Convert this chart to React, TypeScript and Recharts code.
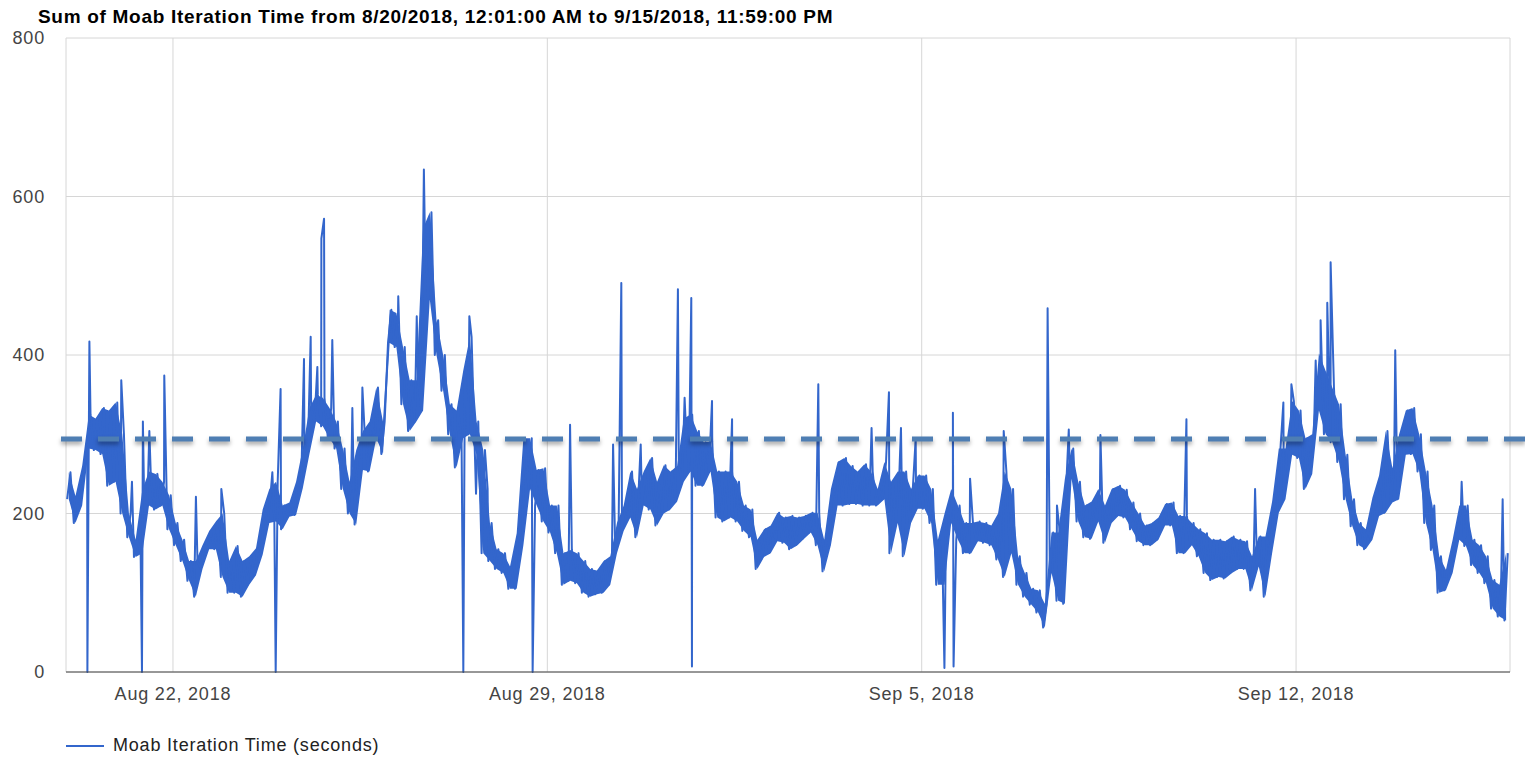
import { ComposedChart, Line, Area, XAxis, YAxis, CartesianGrid, ReferenceLine, Legend } from 'recharts';

// Noise band of the trace: low and high per 3-hour slot from 8/20/2018 00:00 (seconds)
const bandLow = [
  218, 188, 210, 282, 280, 275, 235, 240, 200, 170, 145, 150, 210, 205, 210, 180, 160, 140, 115, 95, 130, 155, 155, 120, 100, 100, 95,
  110, 122, 148, 188, 190, 180, 196, 198, 232, 275, 316, 310, 295, 282, 231, 200, 186, 255, 253, 295, 275, 415, 410, 338, 304, 316, 330,
  470, 400, 355, 300, 258, 295, 300, 274, 150, 140, 130, 125, 105, 105, 160, 231, 210, 190, 176, 150, 110, 115, 112, 100, 95, 98, 100,
  110, 150, 178, 195, 170, 210, 205, 185, 200, 205, 215, 240, 253, 235, 235, 253, 195, 190, 195, 190, 178, 170, 130, 145, 150, 165, 163,
  155, 160, 168, 176, 160, 127, 160, 210, 210, 212, 212, 210, 210, 210, 218, 150, 188, 146, 188, 206, 206, 188, 110, 110, 188, 167, 150, 150,
  165, 163, 160, 142, 120, 150, 110, 95, 85, 75, 56, 125, 90, 86, 244, 190, 170, 168, 190, 163, 188, 197, 195, 180, 165, 160, 160,
  167, 185, 185, 150, 150, 160, 146, 125, 116, 120, 118, 125, 130, 130, 103, 133, 95, 150, 201, 218, 274, 270, 231, 250, 330, 300, 290,
  265, 218, 184, 160, 155, 167, 197, 201, 214, 218, 274, 275, 253, 188, 154, 100, 103, 125, 167, 159, 135, 125, 112, 80, 70, 65,
];

const bandHigh = [
  252, 222, 260, 325, 320, 333, 330, 340, 300, 200, 167, 230, 253, 250, 240, 223, 188, 167, 140, 140, 160, 178, 190, 200, 140, 159, 140,
  146, 156, 205, 231, 240, 210, 214, 240, 282, 333, 350, 346, 333, 316, 282, 240, 280, 304, 316, 359, 316, 457, 453, 410, 368, 368, 560,
  580, 444, 400, 338, 330, 380, 423, 316, 280, 188, 155, 150, 133, 175, 295, 295, 255, 257, 210, 210, 150, 154, 150, 140, 130, 128, 140,
  146, 188, 210, 253, 231, 253, 270, 240, 261, 253, 260, 320, 325, 304, 290, 291, 253, 253, 253, 240, 210, 205, 167, 180, 185, 201, 195,
  197, 195, 197, 201, 201, 167, 231, 265, 270, 260, 253, 262, 253, 231, 265, 240, 253, 253, 231, 248, 248, 231, 167, 200, 231, 210, 188, 188,
  190, 188, 185, 200, 253, 231, 146, 125, 105, 103, 86, 176, 176, 244, 282, 240, 210, 215, 231, 210, 231, 235, 230, 214, 200, 185, 188,
  195, 212, 214, 197, 197, 188, 180, 175, 167, 167, 165, 171, 167, 165, 146, 171, 171, 215, 282, 282, 342, 330, 295, 300, 402, 380, 359,
  338, 274, 218, 188, 180, 220, 248, 304, 257, 300, 330, 333, 300, 253, 210, 146, 129, 167, 210, 210, 167, 160, 146, 116, 110, 150,
];

// Isolated spikes: hours since 8/20/2018 00:00 and their value (seconds)
const spikeHours = [
  9.6, 10.5, 24.8, 29.6, 34.1, 34.5, 37.4, 44.1, 58.3, 69.7,
  92.6, 94.1, 96.3, 106.8, 109.8, 112.8, 114.6, 115.8, 119.5, 128.5, 133.0, 149.1, 157.4, 160.6,
  178.3, 181.0, 184.0, 189.2, 209.4, 226.2,
  245.5, 249.2, 257.9, 274.6, 277.6, 280.6, 280.9, 289.9, 298.9,
  337.6, 361.5, 369.3, 374.7, 381.3, 394.2, 398.0, 398.3, 405.7,
  420.8, 440.5, 444.7, 450.0, 464.2,
  502.8, 533.6, 546.3, 549.9, 560.8, 563.0, 566.0, 567.5,
  596.5, 626.3, 644.7,
];
const spikeValues = [
  0, 417, 368, 240, 0, 316, 304, 374, 221, 231,
  252, 0, 357, 395, 423, 385, 547, 572, 419, 333, 359, 474, 449, 634,
  0, 449, 225, 231, 0, 312,
  287, 491, 287, 483, 346, 472, 7, 342, 319,
  363, 308, 353, 308, 295, 5, 327, 7, 244,
  304, 459, 210, 306, 299,
  319, 231, 340, 363, 393, 444, 466, 517,
  406, 240, 218,
];

const averageSeconds = 294;

const xTickHours = [48, 216, 384, 552];
const xTickLabels = ['Aug 22, 2018', 'Aug 29, 2018', 'Sep 5, 2018', 'Sep 12, 2018'];
const yTicks = [0, 200, 400, 600, 800];

const bandData = bandLow.map((lo, i) => ({ t: i * 3 + 1.25, band: [lo, bandHigh[i]] }));

const traceData: { t: number; v: number }[] = [];
bandLow.forEach((lo, i) => {
  traceData.push({ t: i * 3 + 0.5, v: lo });
  traceData.push({ t: i * 3 + 2, v: bandHigh[i] });
});
spikeHours.forEach((h, i) => traceData.push({ t: h, v: spikeValues[i] }));
traceData.sort((a, b) => a.t - b.t);

const FONT = '"Liberation Sans", Arial, sans-serif';
const tickStyle = { fill: '#444', fontSize: 18, fontFamily: FONT, letterSpacing: 0.8 };

const DashedAverage = (p: any) => (
  <line
    x1={p.x1 - 5}
    y1={p.y1}
    x2={p.x2 + 23}
    y2={p.y2}
    stroke="#4e7eb3"
    strokeWidth={5}
    strokeDasharray="21 16"
    style={{ filter: 'drop-shadow(0px 3px 2px rgba(0,0,0,0.35))' }}
  />
);

const LegendContent = () => (
  <div style={{ display: 'flex', alignItems: 'center', fontFamily: FONT, fontSize: 18, letterSpacing: 0.8, color: '#222' }}>
    <svg width={38} height={4} style={{ marginRight: 9 }}>
      <line x1={0} y1={2} x2={38} y2={2} stroke="#3366cc" strokeWidth={2} />
    </svg>
    <span>Moab Iteration Time (seconds)</span>
  </div>
);

export default function App() {
  return (
    <div style={{ position: 'relative', width: 1525, height: 749 }}>
      <div
        style={{
          position: 'absolute',
          left: 30,
          top: -2,
          fontFamily: FONT,
          fontWeight: 'bold',
          fontSize: 19,
          letterSpacing: 0.7,
          lineHeight: '22px',
          color: '#000',
          whiteSpace: 'nowrap',
        }}
      >
        Sum of Moab Iteration Time from 8/20/2018, 12:01:00 AM to 9/15/2018, 11:59:00 PM
      </div>
      <ComposedChart width={1525} height={749} margin={{ top: 30, right: 23, left: 0, bottom: 24 }}>
        <CartesianGrid stroke="#d6d6d6" />
        <XAxis
          type="number"
          dataKey="t"
          domain={[0, 648]}
          ticks={xTickHours}
          tickFormatter={(h: number) => xTickLabels[xTickHours.indexOf(h)]}
          height={40}
          tickSize={0}
          tickMargin={15}
          stroke="#444"
          tick={tickStyle}
        />
        <YAxis
          domain={[0, 800]}
          ticks={yTicks}
          width={58}
          axisLine={false}
          tickLine={false}
          tickSize={0}
          tickMargin={21}
          tick={tickStyle}
        />
        <Area
          data={bandData}
          type="linear"
          dataKey="band"
          stroke="none"
          fill="#3366cc"
          fillOpacity={1}
          legendType="none"
          isAnimationActive={false}
        />
        <Line
          data={traceData}
          type="linear"
          dataKey="v"
          stroke="#3366cc"
          strokeWidth={2}
          strokeLinejoin="round"
          dot={false}
          activeDot={false}
          isAnimationActive={false}
        />
        <ReferenceLine y={averageSeconds} shape={DashedAverage} />
        <Legend verticalAlign="bottom" align="left" content={LegendContent} wrapperStyle={{ left: 58, bottom: 1, width: 'auto' }} />
      </ComposedChart>
    </div>
  );
}
